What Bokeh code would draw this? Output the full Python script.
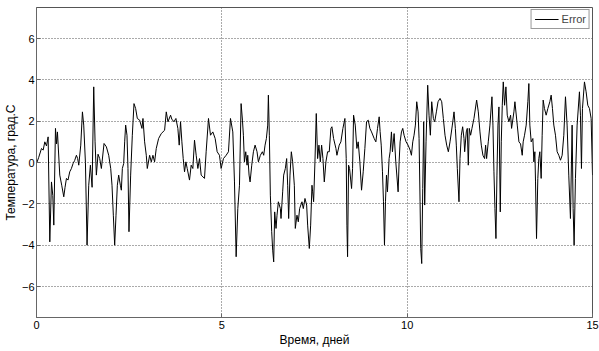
from bokeh.plotting import figure
from bokeh.models import Range1d, FixedTicker
from bokeh.embed import file_html
from bokeh.resources import INLINE

# time, days
t_days = [
    0.00, 0.06, 0.135, 0.18, 0.224, 0.27, 0.314, 0.359, 0.404, 0.44, 0.467, 0.512, 0.54, 0.565,
    0.628, 0.68, 0.736, 0.77, 0.808, 0.85, 0.897, 0.94, 0.987, 1.03, 1.077, 1.11, 1.14, 1.194,
    1.239, 1.274, 1.32, 1.364, 1.409, 1.454, 1.50, 1.544, 1.58, 1.615, 1.66, 1.705,
    1.750, 1.822, 1.885, 1.948, 2.002, 2.037, 2.073, 2.109, 2.145, 2.181, 2.217, 2.262, 2.289,
    2.316, 2.352, 2.379, 2.405, 2.441, 2.468, 2.495, 2.540, 2.585, 2.630, 2.675, 2.720, 2.783,
    2.845, 2.872, 2.917, 2.962, 2.989, 3.052, 3.097, 3.141, 3.186, 3.231, 3.294, 3.366, 3.456,
    3.501, 3.546, 3.617, 3.65, 3.707, 3.761, 3.814, 3.850, 3.886, 3.922, 3.958, 3.994, 4.030,
    4.066, 4.128, 4.173, 4.218, 4.263, 4.308, 4.353, 4.398, 4.443, 4.532, 4.577, 4.640, 4.694,
    4.757, 4.820, 4.874, 4.936, 4.981, 5.044, 5.116, 5.179, 5.233, 5.296, 5.341, 5.386, 5.431,
    5.476, 5.520, 5.556, 5.582, 5.609, 5.645, 5.681, 5.699, 5.735, 5.762, 5.807, 5.852, 5.897,
    5.950, 5.986, 6.040, 6.094, 6.130, 6.166, 6.202, 6.238, 6.256, 6.282, 6.309, 6.345, 6.372,
    6.399, 6.426, 6.462, 6.489, 6.525, 6.579, 6.597, 6.641, 6.668, 6.713, 6.749, 6.776, 6.803,
    6.839, 6.875, 6.911, 6.956, 6.982, 7.027, 7.063, 7.099, 7.162, 7.198, 7.243, 7.288, 7.315,
    7.360, 7.396, 7.432, 7.45, 7.476, 7.512, 7.548, 7.584, 7.620, 7.656, 7.692, 7.728, 7.764,
    7.808, 7.853, 7.898, 7.943, 7.970, 8.015, 8.078, 8.105, 8.167, 8.212, 8.266, 8.320, 8.356,
    8.374, 8.392, 8.419, 8.446, 8.500, 8.527, 8.554, 8.599, 8.643, 8.679, 8.724, 8.769, 8.814,
    8.859, 8.904, 8.949, 8.994, 9.039, 9.110, 9.155, 9.200, 9.245, 9.27, 9.30, 9.334, 9.361,
    9.388, 9.415, 9.442, 9.468, 9.513, 9.540, 9.576, 9.603, 9.648, 9.693, 9.756, 9.783, 9.810,
    9.846, 9.881, 9.917, 9.971, 10.025, 10.079, 10.115, 10.151, 10.186, 10.222, 10.258, 10.294,
    10.321, 10.348, 10.366, 10.393, 10.420, 10.446, 10.473, 10.509, 10.554, 10.590, 10.626,
    10.662, 10.707, 10.743, 10.788, 10.833, 10.887, 10.932, 10.976, 11.021, 11.066, 11.111,
    11.156, 11.219, 11.264, 11.300, 11.326, 11.353, 11.398, 11.425, 11.461, 11.497, 11.533,
    11.551, 11.595, 11.622, 11.649, 11.676, 11.712, 11.748, 11.802, 11.874, 11.919, 11.964,
    12.000, 12.044, 12.089, 12.116, 12.143, 12.188, 12.233, 12.287, 12.314, 12.341, 12.368,
    12.395, 12.422, 12.449, 12.476, 12.512, 12.539, 12.566, 12.593, 12.628, 12.664, 12.700,
    12.745, 12.790, 12.817, 12.880, 12.907, 12.970, 13.015, 13.059, 13.104, 13.130, 13.166,
    13.211, 13.256, 13.283, 13.310, 13.346, 13.391, 13.418, 13.445, 13.463, 13.490, 13.525,
    13.552, 13.579, 13.615, 13.642, 13.669, 13.705, 13.750, 13.795, 13.849, 13.885, 13.920,
    13.956, 14.001, 14.046, 14.091, 14.136, 14.181, 14.226, 14.271, 14.315, 14.360, 14.405,
    14.450, 14.477, 14.504, 14.540, 14.585, 14.648, 14.675, 14.702, 14.729, 14.783, 14.828,
    14.873, 14.918, 14.963, 15.000,
]

# error, degrees C
error_c = [
    -0.05, 0.25, 0.68, 0.60, 1.00, 0.80, 1.24, -3.84, -0.94, -1.60, -3.03, 1.65, 0.90, 1.48,
    -0.61, -1.10, -1.66, -1.20, -0.77, -0.85, -0.45, -0.30, -0.05, 0.10, 0.35, 0.19, -0.13, 0.84,
    2.45, 1.81, 0.00, -4.00, -1.10, -0.13, -1.20, 3.66, 1.00, -0.61, 0.40, 0.19,
    -0.29, 0.92, 0.76, 0.35, -0.29, -1.10, -2.55, -4.00, -2.55, -1.10, -0.61, -1.10, -1.34,
    -0.29, -0.05, 1.00, 1.81, 1.32, -0.29, -3.35, -0.61, 1.32, 2.85, 2.61, 2.13, 2.05,
    1.65, 2.13, 1.00, 0.35, -0.29, 0.35, 0.03, 0.35, 0.03, 0.68, 1.16, 1.40, 1.56,
    2.45, 1.97, 2.29, 2.10, 1.97, 2.13, 1.65, 0.84, 1.97, 1.00, 0.19, -0.45, 0.03,
    -0.29, -0.85, -0.13, -0.29, 1.08, 0.35, -0.29, 0.19, -0.61, -0.77, 0.52, 2.13, 1.32,
    1.48, 1.16, 0.52, 0.35, -0.29, 0.19, 0.35, 0.52, 2.13, 1.48, -0.94, -4.56, -2.23,
    -1.10, 2.85, 2.05, 1.32, 0.03, 0.52, -0.13, 0.35, -0.61, -0.94, -0.13, 0.52, 0.84,
    0.52, 0.03, 0.35, 0.52, 0.35, 0.84, 1.16, 1.81, 3.26, 1.32, -1.58, -3.35, -4.24,
    -4.81, -2.39, -3.19, -2.55, -1.90, -2.23, -2.71, -1.42, -0.61, -0.29, 0.19, -1.10, -2.71,
    -0.61, 0.52, 0.03, -1.10, -3.19, -2.55, -2.87, -2.23, -1.90, -2.23, -1.74, -2.06, -3.03,
    -4.16, -3.03, -1.10, -1.42, -1.90, 0.03, 2.37, 0.19, 0.84, 0.03, 0.84, 0.19, -0.94,
    0.03, 0.52, 0.52, 1.65, 1.73, 1.16, 0.68, 0.35, 0.84, 1.00, 1.65, 2.13, 0.19,
    -3.03, -4.56, -0.13, -0.29, -1.26, -0.29, 2.29, 1.81, 0.68, 1.00, 0.03, -1.34, -0.45,
    0.68, 1.97, 2.05, 1.65, 1.48, 1.16, 1.00, 1.65, 2.21, 1.50, 0.84, -0.45, -1.90,
    -4.00, -1.90, -0.61, -1.42, 0.19, 0.52, 1.48, 0.52, 1.40, 0.03, -1.42, 0.03, 1.00,
    1.48, 1.65, 1.32, 1.00, 0.84, 0.60, 0.35, 1.00, 1.32, 1.81, 2.94, 2.45,
    1.16, -1.90, -4.16, -4.89, -1.26, 1.97, -2.06, 1.00, 3.74, 2.29, 1.32,
    2.94, 2.13, 1.97, 2.45, 2.94, 3.10, 2.94, 2.13, 1.32, 0.84, 0.52,
    1.00, 1.81, 2.45, 1.65, 0.84, -0.29, -1.90, 0.19, 1.32, 1.73, 1.16,
    0.52, 1.48, 1.65, -0.13, 1.65, 1.32, 1.65, 2.13, 3.02, 2.45, 1.48,
    0.84, 0.35, 0.19, 0.84, 0.19, 1.00, 1.81, 3.18, 1.81, -0.45, -2.23,
    -3.68, -0.61, 1.81, 2.69, -2.39, 1.00, 2.77, 3.90, 2.77, 3.66, 2.29,
    1.97, 2.29, 1.65, 2.45, 2.94, 1.81, 1.00, 0.90, 0.35, 1.00, 1.32,
    1.81, 2.94, 3.82, 1.81, 1.00, 1.16, 0.03, 0.52, -0.94, -3.68, -0.77,
    0.19, 0.52, -0.77, 1.32, 3.02, 2.61, 2.29, 2.61, 2.94, 3.26, 2.61,
    1.81, 1.32, 0.52, 0.35, 0.11, 0.35, 1.32, 3.18, 1.81, -0.61, -2.71,
    1.81, -2.23, -4.00, -0.77, 1.81, 3.42, 2.29, -0.29, 2.61, 3.90, 3.42,
    2.77, 2.61, 2.13, -0.61,
]

x_ticks = [0, 5, 10, 15]
y_ticks = [-6, -4, -2, 0, 2, 4, 6]

FONT = "Liberation Sans"

p = figure(width=599, height=351, output_backend="svg", toolbar_location=None,
           x_range=Range1d(0, 15), y_range=Range1d(-7.5, 7.5),
           background_fill_color="white", border_fill_color="white",
           min_border_left=35, min_border_right=7, min_border_top=7, min_border_bottom=34)

p.line(t_days, error_c, line_color="black", line_width=1, legend_label="Error")

for ax in (p.xaxis, p.yaxis):
    ax.major_label_text_font = FONT
    ax.major_label_text_font_size = "11px"
    ax.major_label_text_color = "black"
    ax.axis_label_text_font = FONT
    ax.axis_label_text_font_size = "12px"
    ax.axis_label_text_font_style = "normal"
    ax.axis_label_text_color = "black"
    ax.axis_line_color = "#666666"
    ax.major_tick_line_color = "#666666"
    ax.major_tick_in = 4
    ax.major_tick_out = 0
    ax.minor_tick_line_color = None
    ax.major_label_standoff = 3
    ax.axis_label_standoff = 1

p.yaxis.major_label_standoff = 2

p.xaxis.ticker = FixedTicker(ticks=x_ticks)
p.yaxis.ticker = FixedTicker(ticks=y_ticks)
p.xaxis.axis_label = "Время, дней"
p.yaxis.axis_label = "Температура, град.С"

for g in (p.xgrid, p.ygrid):
    g.grid_line_color = "#555555"
    g.grid_line_dash = "1 2"
    g.grid_line_width = 1
p.xgrid.ticker = FixedTicker(ticks=x_ticks)
p.ygrid.ticker = FixedTicker(ticks=y_ticks)

p.outline_line_color = "#555555"
p.outline_line_alpha = 1

lg = p.legend[0]
lg.location = "top_right"
lg.margin = 2
lg.padding = 3
lg.spacing = 0
lg.label_text_font = FONT
lg.label_text_font_size = "11px"
lg.label_standoff = 3
lg.glyph_width = 24
lg.glyph_height = 12
lg.border_line_color = "#333333"
lg.background_fill_color = "white"
lg.background_fill_alpha = 1

open("out.html", "w").write(file_html(p, INLINE))
